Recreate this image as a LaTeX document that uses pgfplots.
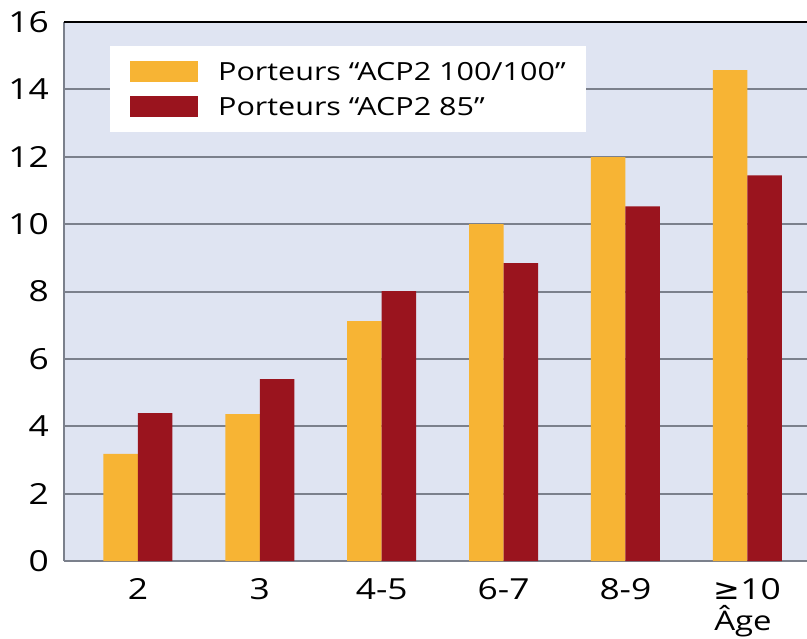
\documentclass[border=0pt]{standalone}
\usepackage{fontspec}
\setmainfont[FakeStretch=1.22]{Open Sans}
\newfontfamily\dejavu[FakeStretch=1.1]{DejaVu Sans}
\usepackage{pgfplots}
\pgfplotsset{compat=1.18}
\definecolor{cOr}{RGB}{247,180,52}
\definecolor{cRd}{RGB}{154,20,30}
\definecolor{cBg}{RGB}{223,228,242}
\definecolor{cGr}{RGB}{123,128,140}
\begin{document}
\begin{tikzpicture}
\begin{axis}[name=ax,
  scale only axis, width=743pt, height=539pt,
  xmin=-0.607, xmax=5.49, ymin=0, ymax=16,
  ybar=0pt, bar width=34.5pt,
  axis background/.style={fill=cBg},
  axis x line*=bottom, axis y line*=left,
  x axis line style={draw=cGr, line width=1.5pt, -},
  y axis line style={draw=cGr, line width=2pt, -},
  ytick={0,2,...,16}, xtick={0,...,5},
  xticklabels={2,3,4-5,6-7,8-9,{{\dejavu\char"2265}10}},
  major tick length=0pt,
  ymajorgrids, grid style={draw=cGr, line width=2pt},
  tick label style={font=\fontsize{29}{35}\selectfont},
  /pgf/number format/assume math mode=true,
  yticklabel style={anchor=east, inner sep=0pt, xshift=-15pt},
  xticklabel style={anchor=north, inner sep=0pt, yshift=-17pt},
  legend style={at={(0.0619,0.9555)}, anchor=north west, draw=none, fill=white,
    inner xsep=20pt, inner ysep=15pt, row sep=14pt, column sep=20pt,
    font=\fontsize{25}{30}\selectfont,
    nodes={inner sep=0pt, text height=19.5pt, text depth=1.5pt, anchor=west}},
  legend cell align=left,
  legend image code/.code={\fill[#1,draw=none] (0pt,-10.5pt) rectangle (68pt,10.5pt);},
]
\addplot[fill=cOr, draw=none] coordinates {(0,3.18) (1,4.36) (2,7.12) (3,10.0) (4,11.99) (5,14.57)};
\addplot[fill=cRd, draw=none] coordinates {(0,4.39) (1,5.40) (2,8.01) (3,8.84) (4,10.53) (5,11.45)};
\legend{Porteurs “ACP2 100/100”, Porteurs “ACP2 85”}
\draw[black, line width=1.5pt] (rel axis cs:0,1) -- (rel axis cs:1,1);
\end{axis}
\node[anchor=base, font=\fontsize{27}{33}\selectfont, inner sep=0pt] at ([xshift=679pt,yshift=-69pt]ax.south west) {Âge};
\pgfresetboundingbox
\path[use as bounding box] ([shift={(-64pt,-77pt)}]ax.south west) rectangle ([shift={(0pt,22pt)}]ax.north east);
\end{tikzpicture}
\end{document}
